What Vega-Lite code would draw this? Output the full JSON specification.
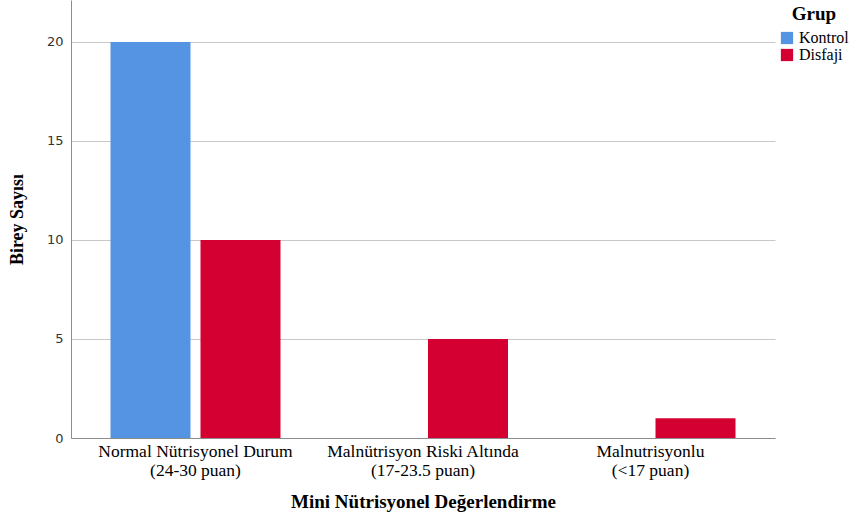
{
  "$schema": "https://vega.github.io/schema/vega-lite/v6.json",
  "autosize": "none",
  "width": 704,
  "height": 438,
  "padding": {"left": 71, "top": 0, "right": 74, "bottom": 86},
  "background": "white",
  "data": {
    "values": [
      {"kategori": "Normal Nütrisyonel Durum\n(24-30 puan)", "grup": "Kontrol", "sayi": 20},
      {"kategori": "Normal Nütrisyonel Durum\n(24-30 puan)", "grup": "Disfaji", "sayi": 10},
      {"kategori": "Malnütrisyon Riski Altında\n(17-23.5 puan)", "grup": "Kontrol", "sayi": 0},
      {"kategori": "Malnütrisyon Riski Altında\n(17-23.5 puan)", "grup": "Disfaji", "sayi": 5},
      {"kategori": "Malnutrisyonlu\n(<17 puan)", "grup": "Kontrol", "sayi": 0},
      {"kategori": "Malnutrisyonlu\n(<17 puan)", "grup": "Disfaji", "sayi": 1}
    ]
  },
  "config": {
    "view": {"stroke": null},
    "axis": {"domainColor": "#8c8c8c", "gridColor": "#c8c8c8"}
  },
  "mark": {"type": "bar"},
  "encoding": {
    "x": {
      "field": "kategori",
      "type": "nominal",
      "sort": null,
      "scale": {"paddingInner": 0.2527, "paddingOuter": 0.1736},
      "axis": {
        "title": "Mini Nütrisyonel Değerlendirme",
        "titleFont": "Liberation Serif",
        "titleFontSize": 19,
        "titleFontWeight": "bold",
        "titleColor": "#000000",
        "titlePadding": 14,
        "labelExpr": "split(datum.label, '\\n')",
        "labelFont": "Liberation Serif",
        "labelFontSize": 17.5,
        "labelColor": "#000000",
        "labelAngle": 0,
        "labelLineHeight": 19,
        "labelLimit": 0,
        "labelPadding": 4,
        "ticks": false,
        "grid": false
      }
    },
    "xOffset": {
      "field": "grup",
      "type": "nominal",
      "sort": ["Kontrol", "Disfaji"],
      "scale": {"paddingInner": 0.1111, "paddingOuter": 0}
    },
    "y": {
      "field": "sayi",
      "type": "quantitative",
      "scale": {"domain": [0, 22.12], "nice": false},
      "axis": {
        "title": "Birey Sayısı",
        "titleFont": "Liberation Serif",
        "titleFontSize": 18,
        "titleFontWeight": "bold",
        "titleColor": "#000000",
        "titlePadding": 20,
        "values": [0, 5, 10, 15, 20],
        "labelFont": "DejaVu Sans",
        "labelFontSize": 13,
        "labelColor": "#333333",
        "labelPadding": 8,
        "ticks": false,
        "grid": true
      }
    },
    "color": {
      "field": "grup",
      "type": "nominal",
      "sort": ["Kontrol", "Disfaji"],
      "scale": {"domain": ["Kontrol", "Disfaji"], "range": ["#5594e3", "#d50032"]},
      "legend": {
        "title": "Grup",
        "orient": "none",
        "legendX": 708,
        "legendY": 5,
        "titleFont": "Liberation Serif",
        "titleFontSize": 19,
        "titleFontWeight": "bold",
        "titleColor": "#000000",
        "titleAnchor": "middle",
        "titlePadding": 6,
        "labelFont": "Liberation Serif",
        "labelFontSize": 16,
        "labelColor": "#000000",
        "labelOffset": 4,
        "symbolType": "square",
        "symbolSize": 150,
        "symbolStrokeWidth": 0,
        "rowPadding": 1,
        "padding": 0
      }
    }
  }
}
